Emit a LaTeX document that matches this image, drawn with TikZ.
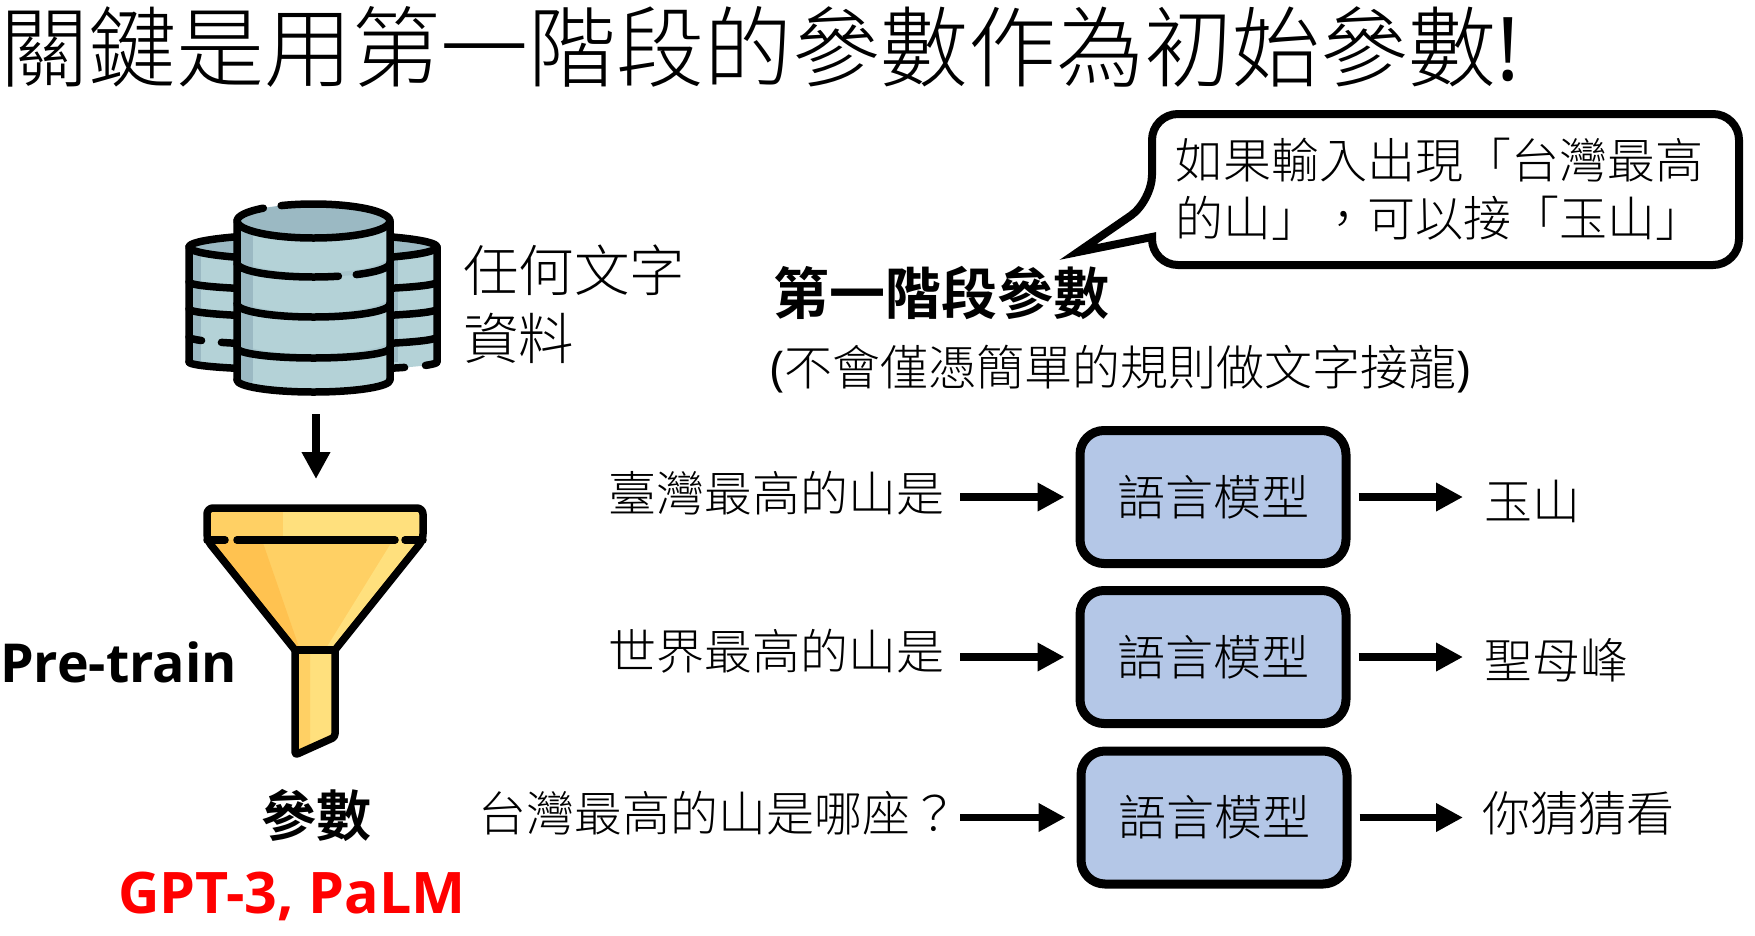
\documentclass[tikz,border=0pt]{standalone}
\usepackage{fontspec}
\setmainfont[UprightFont={* Light},BoldFont={* Bold}]{Noto Sans CJK TC}
\newfontfamily\latinfont{Open Sans}
\usetikzlibrary{arrows.meta}
\definecolor{dbbody}{HTML}{B4D2D7}
\definecolor{dbdark}{HTML}{9BB9C3}
\definecolor{funnellight}{HTML}{FFE07D}
\definecolor{funnelmid}{HTML}{FFD064}
\definecolor{funneldark}{HTML}{FFC250}
\definecolor{modelblue}{HTML}{B4C7E7}
\newcommand{\px}[1]{\fontsize{#1}{#1}\selectfont}
\tikzset{
  label/.style={inner sep=0pt, outer sep=0pt, font=\px{48}},
  modelbox/.style={draw, line width=9pt, rounded corners=24pt, fill=modelblue,
    minimum width=266pt, minimum height=133pt, inner sep=0pt, font=\px{48}},
  flow/.style={line width=7.5pt, -{Triangle[length=27pt,width=27pt]}},
  icon/.style={line width=7.5pt, line cap=round, line join=round}
}
\begin{document}
\begin{tikzpicture}[x=1pt,y=-1pt]
    \useasboundingbox (0,0) rectangle (1755,935);

    % Title
    \node[label, anchor=west, font=\px{88}] (title) at (0,47) {關鍵是用第一階段的參數作為初始參數{\latinfont !}};

    % Database icon: rear cylinder
    \fill[dbbody] (189,247) -- (189,362) arc (180:0:124 and 8) -- (437,247) -- cycle;
    \fill[dbdark] (189,247) rectangle (201,362);
    \fill[dbdark] (390,247) rectangle (398,362);
    \fill[dbdark] (313,247) ellipse (124 and 13);
    \draw[icon] (189,362) -- (189,247) arc (180:360:124 and 13) -- (437,362);
    \draw[icon] (189,247) arc (180:0:124 and 13);
    \draw[icon] (189,362) arc (180:42.4:124 and 8);
    \draw[icon] ([shift={(313,362)}]24.9:124 and 8) arc (24.9:0:124 and 8);
    \foreach \yb in {282,309} {
      \draw[icon] (189,\yb) arc (180:0:124 and 8);
    }
    \draw[icon] (189,337) arc (180:154:124 and 8);
    \draw[icon] ([shift={(313,337)}]137.6:124 and 8) arc (137.6:0:124 and 8);

    % Database icon: front cylinder
    \fill[dbbody] (237,221) -- (237,380) arc (180:0:76.5 and 12) -- (390,221) -- cycle;
    \foreach \yb/\rb in {263/14,304/13,348/10} {
      \fill[dbdark!50!dbbody] (237,\yb-8) arc (180:0:76.5 and \rb+4) -- (390,\yb) arc (0:180:76.5 and \rb) -- cycle;
    }
    \fill[dbdark] (237,221) rectangle (253,380);
    \fill[dbdark] (237,380) arc (180:145:76.5 and 12) -- (253,380) -- cycle;
    \fill[dbdark] (313.5,221) ellipse (76.5 and 17);
    \draw[icon] (237,380) -- (237,221) arc (180:229:76.5 and 17);
    \draw[icon] ([shift={(313.5,221)}]245:76.5 and 17) arc (245:360:76.5 and 17) -- (390,380);
    \draw[icon] (237,221) arc (180:0:76.5 and 17);
    \draw[icon] (237,380) arc (180:0:76.5 and 12);
    \draw[icon] (237,263) arc (180:71:76.5 and 14);
    \draw[icon] ([shift={(313.5,263)}]56:76.5 and 14) arc (56:0:76.5 and 14);
    \foreach \yb/\rb in {304/13,348/10} {
      \draw[icon] (237,\yb) arc (180:0:76.5 and \rb);
    }

    % Funnel icon
    \fill[funnellight] (207,508) rectangle (423,540);
    \fill[funnelmid] (207,508) rectangle (283,540);
    \fill[funnelmid] (207,540) -- (423,540) -- (335,650) -- (295,650) -- cycle;
    \fill[funneldark] (207,540) -- (262,540) -- (300,650) -- (295,650) -- cycle;
    \fill[funnellight] (393,540) -- (423,540) -- (335,650) -- (325,650) -- cycle;
    \fill[funnellight] (295,650) -- (335,650) -- (335,737) -- (295,755) -- cycle;
    \fill[funnelmid] (295,650) -- (310,650) -- (310,748) -- (295,755) -- cycle;
    \draw[icon, rounded corners=6pt] (295,650) -- (207,540) -- (207,508) -- (423,508) -- (423,540) -- (335,650);
    \draw[icon] (295,650) -- (335,650);
    \draw[icon, rounded corners=3pt] (295,650) -- (295,755) -- (335,737) -- (335,650);
    \draw[icon] (207,540) -- (225,540);
    \draw[icon] (237,540) -- (395,540);
    \draw[icon] (405,540) -- (423,540);

    % Arrow from database to funnel
    \coordinate (dbbase) at (316,414);
    \coordinate (funneltop) at (316,479);
    \draw[line width=8.5pt, -{Triangle[length=27pt,width=27pt]}] (dbbase) -- (funneltop);

    % Left labels
    \node[label, anchor=west, font=\px{55.5}, align=left, text depth=0pt] (datatext) at (463,302) {任何文字\\[12pt]資料};
    \node[label, anchor=west, font=\latinfont\bfseries\px{53.7}] (pretrain) at (0,662) {Pre-train};
    \node[label, font=\bfseries\px{55}] (paramtext) at (316,815) {參數};
    \node[label, anchor=west, red, font=\latinfont\bfseries\px{57.3}] (gptname) at (118,896) {GPT-3, PaLM};

    % Callout
    \draw[line width=8pt, line join=miter, miter limit=20, fill=white] (1078,252) -- (1152,237) [rounded corners=26pt] -- (1152,265) -- (1739,265) -- (1739,114) -- (1152,114) -- (1152,201) [sharp corners] -- cycle;
    \node[label, anchor=west, align=left] (callouttext) at (1175,189.5) {如果輸入出現「台灣最高\\[10pt]的山」^^^^ff0c可以接「玉山」};

    % Stage heading
    \node[label, anchor=west, font=\bfseries\px{56}] (stagetext) at (773,293) {第一階段參數};
    \node[label, anchor=west] (stagenote) at (770,369) {{\latinfont (}不會僅憑簡單的規則做文字接龍{\latinfont )}};

    % Rows: input -> model -> output
    \foreach \row/\bx/\by/\inx/\iny/\intext/\outtext/\outx/\outy in {
      a/1213/497/608/493/臺灣最高的山是/玉山/1484/501,
      b/1213/657/608/651/世界最高的山是/聖母峰/1484/660,
      c/1214/817.5/478/813/台灣最高的山是哪座^^^^ff1f/你猜猜看/1482/814} {
      \node[modelbox] (box\row) at (\bx,\by) {\raisebox{2pt}{語言模型}};
      \node[label, anchor=west] (in\row) at (\inx,\iny) {\intext};
      \node[label, anchor=west] (out\row) at (\outx,\outy) {\outtext};
      \coordinate (start\row) at (960,\by);
      \coordinate (end\row) at (1463,\by);
      \draw[flow, shorten >=11pt] (start\row) -- (box\row.west);
      \draw[flow, shorten <=8pt] (box\row.east) -- (end\row);
    }
\end{tikzpicture}
\end{document}
